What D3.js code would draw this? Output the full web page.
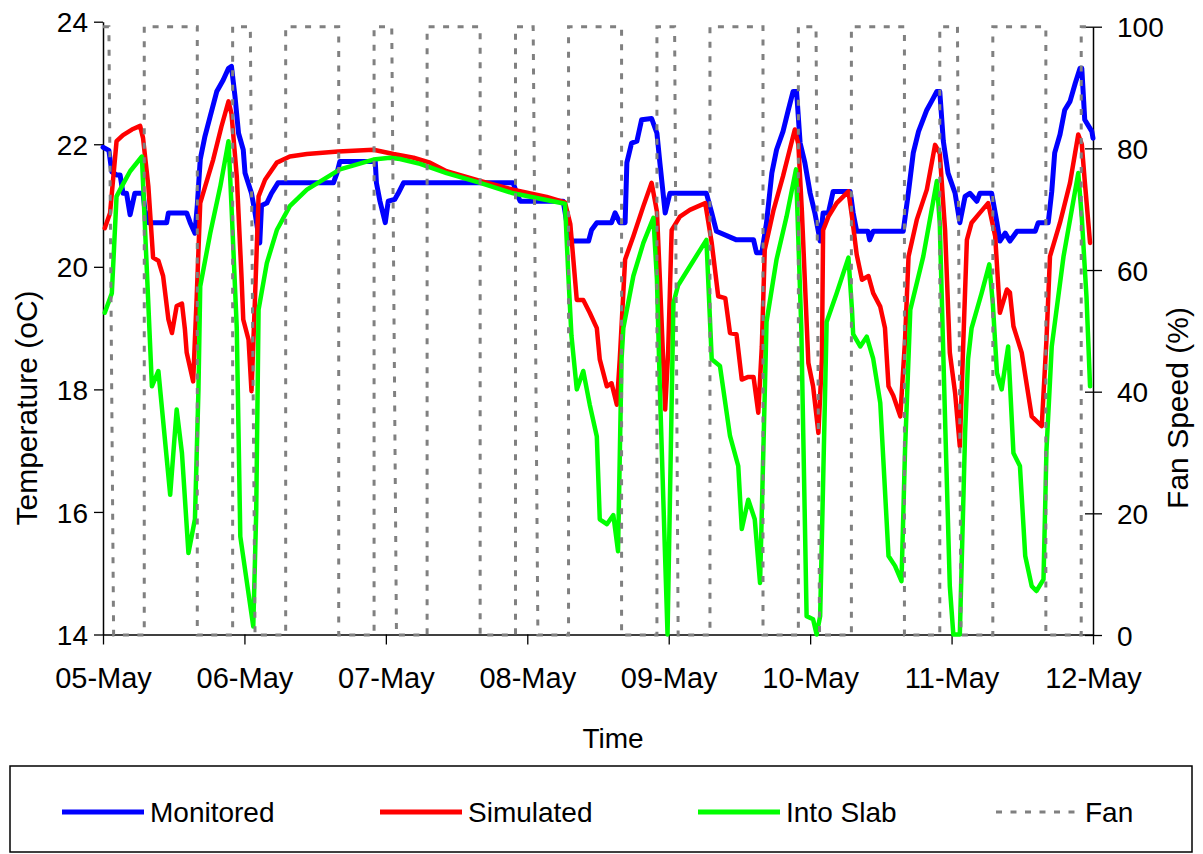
<!DOCTYPE html>
<html>
<head>
<meta charset="utf-8">
<script src="https://cdn.jsdelivr.net/npm/d3@7"></script>
<style>
  html, body { margin: 0; padding: 0; background: #fff; }
  #chart { width: 1203px; height: 854px; }
  text { font-family: "Liberation Sans", Arial, sans-serif; fill: #000; }
</style>
</head>
<body>
<div id="chart"></div>
<script>
// hours since 05-May 00:00 , temperature (oC)
const monitored = [
  [0,21.95],[1.0,21.9],[1.5,21.55],[2.3,21.5],[2.9,21.5],[3.4,21.2],[4.0,21.2],[4.6,20.85],[5.4,21.2],[6.8,21.2],
  [7.1,20.93],[7.7,20.72],[10.8,20.72],[11.1,20.88],[14.2,20.88],[14.8,20.72],[15.6,20.55],[16.0,21.0],[16.5,21.75],
  [17.3,22.13],[18.2,22.46],[19.3,22.86],[20.4,23.05],[21.3,23.24],[21.8,23.27],[22.4,22.78],[23.0,22.18],[23.8,21.91],
  [24.1,21.53],[25.2,21.2],[25.8,20.88],[26.6,20.39],[26.9,21.0],[27.8,21.04],[28.6,21.2],[29.7,21.37],[39.1,21.37],
  [39.7,21.53],[40.2,21.72],[46.2,21.72],[46.4,21.37],[47.0,21.07],[47.9,20.72],[48.4,21.07],[49.5,21.1],[50.1,21.2],
  [51.0,21.37],[69.6,21.37],[70.2,21.2],[70.8,21.07],[78.1,21.07],[78.7,20.72],[79.5,20.42],[82.4,20.42],[82.9,20.6],
  [83.8,20.72],[86.3,20.72],[86.9,20.88],[87.7,20.72],[88.6,20.72],[88.9,21.7],[89.7,22.02],[90.6,22.05],[91.4,22.4],
  [93.1,22.42],[94.0,22.18],[94.5,21.7],[95.4,20.88],[96.2,21.2],[102.4,21.2],[103.3,20.88],[104.1,20.58],[107.5,20.44],
  [110.4,20.44],[110.9,20.23],[111.8,20.23],[112.6,20.72],[113.5,21.53],[114.3,21.91],[115.4,22.21],[116.3,22.56],
  [117.1,22.86],[117.7,22.86],[118.3,22.02],[119.1,21.7],[120.0,21.2],[120.8,20.88],[121.7,20.42],[122.2,20.88],
  [123.1,20.88],[123.9,21.23],[126.8,21.23],[127.3,20.88],[127.9,20.58],[129.8,20.58],[130.1,20.44],[130.7,20.58],
  [135.8,20.58],[136.7,21.23],[137.5,21.86],[138.4,22.21],[139.8,22.56],[140.6,22.7],[141.5,22.86],[142.0,22.86],
  [142.6,22.05],[143.4,21.53],[144.6,21.2],[145.4,20.72],[146.3,21.15],[147.1,21.2],[148.3,21.07],[148.8,21.2],
  [150.8,21.2],[151.7,20.72],[152.2,20.42],[153.1,20.55],[153.9,20.42],[155.1,20.58],[158.2,20.58],[158.7,20.72],
  [160.4,20.72],[161.0,21.23],[161.5,21.86],[162.4,22.16],[163.2,22.56],[164.1,22.7],[165.0,23.0],[165.8,23.24],
  [166.1,23.24],[166.6,22.4],[167.8,22.21],[168,22.1]
];
const simulated = [
  [0.3,20.63],[1.2,20.88],[2.3,22.05],[3.4,22.15],[4.9,22.24],[6.3,22.3],[6.8,22.1],[7.7,21.31],[8.5,20.15],[9.4,20.1],
  [10.2,19.85],[11.1,19.14],[11.7,18.92],[12.5,19.36],[13.4,19.4],[13.9,18.98],[14.2,18.6],[15.3,18.13],[15.9,19.5],
  [16.5,21.04],[17.3,21.3],[18.7,21.75],[20.1,22.29],[21.3,22.7],[21.8,22.5],[22.7,21.48],[23.5,19.85],[23.8,19.14],
  [24.7,18.81],[25.2,17.97],[25.8,19.5],[26.4,21.15],[27.5,21.42],[29.5,21.7],[31.7,21.8],[34.6,21.84],[39.9,21.88],
  [45.9,21.91],[49.3,21.84],[52.7,21.78],[55.5,21.7],[58.3,21.56],[64.0,21.4],[69.6,21.26],[75.3,21.14],[78.4,21.05],
  [79.3,20.7],[80.4,19.46],[81.5,19.46],[82.6,19.25],[83.8,19.0],[84.3,18.49],[85.5,18.05],[86.3,18.1],[87.2,17.75],
  [87.7,18.5],[88.6,20.12],[90.0,20.5],[91.7,20.99],[93.1,21.37],[94.0,20.9],[94.5,19.8],[95.4,17.67],[95.9,18.6],
  [96.5,20.6],[97.9,20.82],[99.6,20.93],[102.2,21.04],[103.3,20.39],[104.4,19.52],[105.6,19.49],[106.4,18.92],
  [107.5,18.9],[108.4,18.16],[109.4,18.2],[110.4,18.2],[111.2,17.62],[111.8,18.7],[112.3,20.28],[113.8,20.93],
  [115.4,21.48],[117.4,22.24],[118.0,22.0],[118.6,20.9],[119.7,18.43],[120.5,18.05],[121.4,17.29],[122.0,18.5],
  [122.2,20.6],[123.1,20.82],[124.5,21.04],[126.5,21.23],[127.1,20.82],[127.9,20.2],[128.8,19.79],[129.9,19.85],
  [130.7,19.57],[131.9,19.35],[132.7,19.0],[133.3,18.05],[134.1,17.9],[135.3,17.56],[136.1,18.8],[136.7,20.17],
  [138.1,20.77],[139.8,21.26],[141.2,21.99],[142.0,21.85],[142.9,20.6],[143.7,18.6],[144.6,17.94],[145.4,17.07],
  [146.0,18.8],[146.6,20.44],[147.4,20.72],[148.8,20.88],[150.2,21.04],[151.4,20.5],[152.2,19.25],[153.4,19.63],
  [153.9,19.58],[154.5,19.03],[155.9,18.6],[157.6,17.56],[159.3,17.4],[160.1,18.8],[160.7,20.17],[162.4,20.72],
  [164.1,21.37],[165.5,22.16],[166.1,22.0],[166.6,21.4],[167.5,20.39]
];
const intoSlab = [
  [0.3,19.25],[1.5,19.57],[2.3,21.15],[3.4,21.35],[4.6,21.56],[6.6,21.8],[8.3,18.05],[9.4,18.3],[11.4,16.28],
  [12.5,17.67],[13.4,16.96],[14.5,15.33],[15.6,15.88],[16.2,18.0],[16.5,19.68],[18.2,20.55],[19.9,21.31],[21.3,22.05],
  [21.8,21.0],[22.7,19.0],[23.3,15.6],[25.5,14.13],[26.0,16.0],[26.4,19.3],[27.8,20.06],[29.5,20.6],[31.7,20.99],
  [34.6,21.26],[40.2,21.59],[45.9,21.75],[48.7,21.78],[50.4,21.76],[53.8,21.68],[58.3,21.53],[64.0,21.37],[69.6,21.2],
  [78.4,21.03],[79.0,19.8],[79.5,18.87],[80.4,18.0],[81.5,18.3],[82.6,17.75],[83.8,17.23],[84.3,15.88],[85.5,15.8],
  [86.6,15.95],[87.4,15.36],[88.0,18.5],[88.3,19.0],[90.0,19.85],[91.7,20.39],[93.4,20.8],[94.0,19.8],[94.5,18.0],
  [95.8,14.0],[96.8,19.41],[97.6,19.7],[99.6,20.01],[102.4,20.44],[103.3,18.49],[104.7,18.38],[106.4,17.24],
  [107.8,16.75],[108.4,15.72],[109.5,16.2],[110.6,15.88],[111.5,14.84],[112.6,19.1],[114.3,20.12],[116.0,20.82],
  [117.6,21.59],[118.5,19.0],[119.4,14.3],[120.5,14.25],[121.1,14.0],[121.7,14.3],[122.8,19.1],[124.5,19.57],
  [126.5,20.15],[127.1,19.3],[127.3,18.9],[128.5,18.7],[129.6,18.86],[130.7,18.5],[131.9,17.78],[133.3,15.28],
  [134.4,15.12],[135.5,14.87],[136.1,17.0],[137.0,19.3],[139.2,20.17],[141.5,21.4],[142.0,20.7],[142.9,17.5],
  [143.7,14.79],[144.3,14.0],[145.4,14.0],[146.3,17.3],[146.8,18.49],[147.4,19.0],[149.1,19.57],[150.4,20.04],
  [151.0,19.4],[151.7,18.27],[152.5,18.0],[153.6,18.7],[154.5,16.96],[155.6,16.75],[156.5,15.28],[157.6,14.79],
  [158.4,14.71],[159.6,14.9],[160.1,17.0],[161.0,18.7],[163.0,20.17],[165.5,21.53],[166.1,20.8],[166.9,19.5],[167.5,18.05]
];
// hours , fan speed (%)
const fan = [
  [0,100],[1,100],[1.8,0],[7,0],[7,100],[16,100],[16,0],[22,0],[22,100],[25,100],[25.8,0],[31,0],[31,100],[40,100],
  [40,0],[46,0],[46,100],[49,100],[49.8,0],[55,0],[55,100],[64,100],[64,0],[70,0],[70,100],[73,100],[73.8,0],[79,0],
  [79,100],[88,100],[88,0],[94,0],[94,100],[97,100],[97.6,0],[103,0],[103,100],[112,100],[112,0],[118,0],[118,100],
  [121,100],[121.6,0],[127,0],[127,100],[136,100],[136,0],[142,0],[142,100],[145,100],[145.6,0],[151,0],[151,100],
  [160,100],[160,0],[166,0],[166,100],[168,100]
];
const dayLabels = ['05-May', '06-May', '07-May', '08-May', '09-May', '10-May', '11-May', '12-May'];
const tempTicks = [14, 16, 18, 20, 22, 24];
const fanTicks = [0, 20, 40, 60, 80, 100];
const legendNames = ['Monitored', 'Simulated', 'Into Slab', 'Fan'];

const chart = {};

chart.create = function(config){
  this.config = config;
  this.config.width_svg = 1203;
  this.config.height_svg = 854;
  this.config.svg = d3.select(`#${config.target}`)
                      .append('svg')
                      .attr('width', this.config.width_svg)
                      .attr('height', this.config.height_svg);
}

chart.update = function(){
  let svg = this.config.svg,
      fontSize = 28,
      titleSize = 30;
  let xScale = d3.scaleLinear()
                 .domain([0, 168])
                 .range([103, 1093]);
  let yScale = d3.scaleLinear()
                 .domain([14, 24])
                 .range([634.5, 21.7]);
  let y2Scale = d3.scaleLinear()
                  .domain([0, 100])
                  .range([635, 26.7]);

  let xAxis = g => g.attr('transform', `translate(0, ${yScale(14)})`)
                    .call(d3.axisBottom(xScale)
                            .tickValues(d3.range(0, 169, 24))
                            .tickFormat((d, i) => dayLabels[i])
                            .tickSize(10).tickPadding(23).tickSizeOuter(0))
                    .call(g => g.select('.domain').attr('stroke-width', 1.5))
                    .call(g => g.selectAll('.tick line').attr('stroke-width', 1.3))
                    .call(g => g.selectAll('.tick text').attr('font-size', 29));
  let yAxis = g => g.attr('transform', `translate(${xScale(0)}, 0)`)
                    .call(d3.axisLeft(yScale).tickValues(tempTicks)
                            .tickSize(9).tickPadding(6).tickSizeOuter(0))
                    .call(g => g.select('.domain').attr('stroke-width', 1.5))
                    .call(g => g.selectAll('.tick line').attr('stroke-width', 1.3))
                    .call(g => g.selectAll('.tick text').attr('font-size', fontSize).attr('dy', '0.36em'));
  let y2Axis = g => g.attr('transform', `translate(${xScale(168)}, 0)`)
                     .call(d3.axisRight(y2Scale).tickValues(fanTicks)
                             .tickSize(9).tickPadding(15).tickSizeOuter(0))
                     .call(g => g.select('.domain').attr('stroke-width', 1.5))
                     .call(g => g.selectAll('.tick line').attr('x1', -8).attr('stroke-width', 1.3))
                     .call(g => g.selectAll('.tick text').attr('font-size', fontSize).attr('dy', '0.36em'));

  let line = d3.line()
               .x(d => xScale(d[0]))
               .y(d => yScale(d[1]));
  let fanLine = d3.line()
                  .x(d => xScale(d[0]))
                  .y(d => y2Scale(d[1]));

  let series = [
    {name: legendNames[0], data: monitored, color: '#0000ff', width: 5},
    {name: legendNames[1], data: simulated, color: '#ff0000', width: 4.5},
    {name: legendNames[2], data: intoSlab, color: '#00ff00', width: 4.5}
  ];

  svg.append('g').attr('id', 'g_xAxis').call(xAxis);
  svg.append('g').attr('id', 'g_yAxis').call(yAxis);
  svg.append('g').attr('id', 'g_y2Axis').call(y2Axis);

  svg.append('g')
     .attr('id', 'g_path')
     .attr('fill', 'none')
     .attr('stroke-linejoin', 'round')
     .attr('stroke-linecap', 'round')
   .selectAll('path')
   .data(series)
   .enter().append('path')
           .attr('stroke', d => d.color)
           .attr('stroke-width', d => d.width)
           .attr('d', d => line(d.data));

  svg.append('path')
     .attr('fill', 'none')
     .attr('stroke', '#808080')
     .attr('stroke-width', 3)
     .attr('stroke-dasharray', '6,8.5')
     .attr('d', fanLine(fan));

  // axis titles
  svg.append('text')
     .attr('transform', 'translate(37, 408) rotate(-90)')
     .attr('text-anchor', 'middle')
     .attr('font-size', titleSize)
     .text('Temperature (oC)');
  svg.append('text')
     .attr('transform', 'translate(1188, 408) rotate(-90)')
     .attr('text-anchor', 'middle')
     .attr('font-size', titleSize)
     .text('Fan Speed (%)');
  svg.append('text')
     .attr('x', 613)
     .attr('y', 748)
     .attr('text-anchor', 'middle')
     .attr('font-size', fontSize)
     .text('Time');

  // legend
  let legend = svg.append('g').attr('id', 'g_legend');
  legend.append('rect')
        .attr('x', 10).attr('y', 766)
        .attr('width', 1182).attr('height', 86)
        .attr('fill', 'none')
        .attr('stroke', '#000')
        .attr('stroke-width', 1.5);
  let items = [
    {name: legendNames[0], x: 62, color: '#0000ff', dash: null, width: 5},
    {name: legendNames[1], x: 380, color: '#ff0000', dash: null, width: 5},
    {name: legendNames[2], x: 698, color: '#00ff00', dash: null, width: 5},
    {name: legendNames[3], x: 996, color: '#808080', dash: '6,8.5', width: 3}
  ];
  let item = legend.selectAll('g.item')
                   .data(items)
                   .enter().append('g')
                           .attr('class', 'item')
                           .attr('transform', d => `translate(${d.x}, 812)`);
  item.append('line')
      .attr('x1', 0).attr('x2', 82)
      .attr('stroke', d => d.color)
      .attr('stroke-width', d => d.width)
      .attr('stroke-dasharray', d => d.dash);
  item.append('text')
      .attr('x', d => d.dash ? 89 : 88)
      .attr('y', 10)
      .attr('font-size', fontSize)
      .text(d => d.name);
}

chart.create({target: 'chart'});
chart.update();
</script>
</body>
</html>
